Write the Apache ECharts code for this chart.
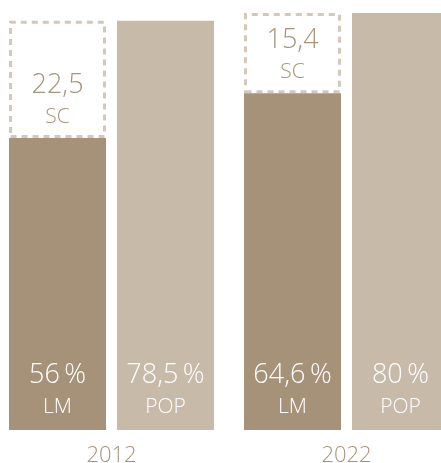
<!DOCTYPE html>
<html>
<head>
<meta charset="utf-8">
<script src="https://cdn.jsdelivr.net/npm/echarts@6/dist/echarts.min.js"></script>
<style>
html,body{margin:0;padding:0;background:#fff;}
#c{width:441px;height:463px;}
</style>
</head>
<body>
<div id="c"></div>
<script>
var years = ['2012', '2022'];
var lmValues = [56, 64.6];
var scValues = [22.5, 15.4];
var popValues = [78.5, 80];
var lmName = 'LM', scName = 'SC', popName = 'POP';

function fmt(v) { return String(v).replace('.', ','); }

var FONT = '"Open Sans", sans-serif';
var rich = function (color) {
  return {
    a: { fontFamily: FONT, fontWeight: 300, fontSize: 27, lineHeight: 34, color: color },
    b: { fontFamily: FONT, fontWeight: 300, fontSize: 21, lineHeight: 30, color: color }
  };
};

var chart = echarts.init(document.getElementById('c'), null, { renderer: 'canvas' });
chart.setOption({
  animation: false,
  grid: { left: -6, width: 470, top: 0, bottom: 33, containLabel: false, outerBoundsMode: 'none' },
  xAxis: {
    type: 'category',
    data: years,
    axisLine: { show: false },
    axisTick: { show: false },
    axisLabel: { color: '#a89479', fontFamily: FONT, fontWeight: 300, fontSize: 22, margin: 15 }
  },
  yAxis: { type: 'value', min: 0, max: 82.5, show: false, splitLine: { show: false } },
  series: [
    {
      name: lmName, type: 'bar', stack: 's', z: 3,
      barWidth: 97, barGap: '11.3%',
      data: lmValues,
      itemStyle: { color: '#a69279' },
      label: {
        show: true, position: 'insideBottom', distance: 8,
        formatter: function (p) { return '{a|' + fmt(p.value) + '\u2009%}\n{b|' + lmName + '}'; },
        rich: rich('#ffffff')
      }
    },
    {
      name: scName, type: 'bar', stack: 's', z: 2,
      barWidth: 97,
      data: scValues,
      itemStyle: { color: '#ffffff', borderColor: '#d3c8ba', borderWidth: 3, borderType: [6, 5] },
      label: {
        show: true, position: 'insideBottom', distance: 6,
        formatter: function (p) { return '{a|' + fmt(p.value) + '}\n{b|' + scName + '}'; },
        rich: rich('#a89479')
      }
    },
    {
      name: popName, type: 'bar', z: 3,
      barWidth: 97, barGap: '11.3%',
      data: popValues,
      itemStyle: { color: '#c8baa9' },
      label: {
        show: true, position: 'insideBottom', distance: 8,
        formatter: function (p) { return '{a|' + fmt(p.value) + '\u2009%}\n{b|' + popName + '}'; },
        rich: rich('#ffffff')
      }
    }
  ]
});
</script>
</body>
</html>
